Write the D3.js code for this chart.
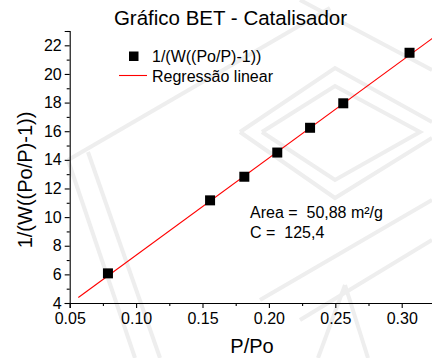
<!DOCTYPE html>
<html>
<head>
<meta charset="utf-8">
<script src="https://cdn.jsdelivr.net/npm/d3@7"></script>
<style>
  html, body { margin: 0; padding: 0; background: #fff; }
  svg { display: block; font-family: "Liberation Sans", Arial, sans-serif; }
</style>
</head>
<body>
<svg id="chart" width="432" height="358"></svg>
<script>
// BET plot: measured points
const relPressure = [0.0788, 0.1557, 0.1815, 0.2063, 0.2310, 0.2560, 0.3059];
const betValue    = [6.07, 11.17, 12.82, 14.51, 16.24, 17.95, 21.48];

// Linear regression of the BET transform
const fitSlope = 67.91;
const fitIntercept = 0.546;
const fitRange = [0.0565, 0.33];

// Axis ticks
const xTicks = [0.05, 0.10, 0.15, 0.20, 0.25, 0.30];
const xMinor = [0.075, 0.125, 0.175, 0.225, 0.275, 0.325];
const yTicks = [4, 6, 8, 10, 12, 14, 16, 18, 20, 22];
const yMinor = [5, 7, 9, 11, 13, 15, 17, 19, 21, 23];

// Text
const titleText = "Gráfico BET - Catalisador";
const xTitle = "P/Po";
const yTitle = "1/(W((Po/P)-1))";
const legendLabels = ["1/(W((Po/P)-1))", "Regressão linear"];
const resultLines = ["Area =  50,88 m²/g", "C =  125,4"];

const svg = d3.select("#chart");

// faint background emblem
const emblem = svg.append("g")
  .attr("fill", "none")
  .attr("stroke", "#eeeeee")
  .attr("stroke-width", 4)
  .attr("stroke-linejoin", "miter");
const line = d3.line();
[
  [[262, 132], [335, 86], [420, 132], [335, 180], [262, 132]],
  [[240, 132], [335, 68], [432, 122]],
  [[240, 132], [335, 198], [432, 138]],
  [[68, 160], [135, 358]],
  [[88, 152], [160, 358]],
  [[68, 160], [330, 8]],
  [[300, 0], [432, 70]],
  [[345, 285], [368, 358]],
  [[345, 285], [318, 358]],
  [[432, 200], [260, 300]],
  [[432, 240], [300, 320]]
].forEach(p => emblem.append("path").attr("d", line(p)));

const x = d3.scaleLinear().domain([0.05, 0.325]).range([69.7, 434.9]);
const y = d3.scaleLinear().domain([4, 23]).range([303, 31]);

// x axis
const xAxisG = svg.append("g").attr("transform", `translate(0,${y(4)})`);
xAxisG.call(d3.axisBottom(x).tickValues(xTicks).tickSize(5).tickPadding(5)
  .tickFormat(d3.format(".2f")));
xAxisG.append("g").call(d3.axisBottom(x).tickValues(xMinor).tickSize(3).tickFormat(""))
  .select(".domain").remove();

// y axis
const yAxisG = svg.append("g").attr("transform", `translate(${x(0.05)},0)`);
yAxisG.call(d3.axisLeft(y).tickValues(yTicks).tickSize(5).tickPadding(3)
  .tickFormat(d3.format("d")));
yAxisG.append("g").call(d3.axisLeft(y).tickValues(yMinor).tickSize(3).tickFormat(""))
  .select(".domain").remove();

svg.selectAll(".domain, .tick line").attr("stroke", "#000").attr("stroke-width", 1.1);
svg.selectAll(".tick text").attr("fill", "#000")
  .style("font-size", "16px").style("font-family", "Liberation Sans, Arial, sans-serif");

// regression line
svg.append("clipPath").attr("id", "plotClip").append("rect")
  .attr("x", x(0.05)).attr("y", y(23)).attr("width", 432).attr("height", y(4) - y(23));
svg.append("path")
  .attr("clip-path", "url(#plotClip)")
  .attr("fill", "none")
  .attr("stroke", "#ff0000")
  .attr("stroke-width", 1.1)
  .attr("d", d3.line()(fitRange.map(v => [x(v), y(fitSlope * v + fitIntercept)])));

// data markers
const msize = 10;
svg.append("g").selectAll("rect")
  .data(relPressure.map((p, i) => [p, betValue[i]]))
  .join("rect")
  .attr("x", d => x(d[0]) - msize / 2)
  .attr("y", d => y(d[1]) - msize / 2)
  .attr("width", msize).attr("height", msize)
  .attr("fill", "#000");

// title
svg.append("text").attr("x", 230.5).attr("y", 25).attr("text-anchor", "middle")
  .style("font-size", "20.5px").attr("fill", "#000").text(titleText);

// axis titles
svg.append("text").attr("x", 252).attr("y", 353).attr("text-anchor", "middle")
  .style("font-size", "20px").attr("fill", "#000").text(xTitle);
svg.append("text").attr("transform", "translate(32,180) rotate(-90)")
  .attr("text-anchor", "middle")
  .style("font-size", "20px").attr("fill", "#000").text(yTitle);

// legend
const lg = svg.append("g");
lg.append("rect").attr("x", 129).attr("y", 51.5).attr("width", 9.5).attr("height", 9.5).attr("fill", "#000");
lg.append("text").attr("x", 152).attr("y", 62).style("font-size", "16px").attr("fill", "#000")
  .text(legendLabels[0]);
lg.append("line").attr("x1", 119).attr("x2", 147).attr("y1", 75.5).attr("y2", 75.5)
  .attr("stroke", "#ff0000").attr("stroke-width", 1.1);
lg.append("text").attr("x", 152).attr("y", 81.5).style("font-size", "16px").attr("fill", "#000")
  .text(legendLabels[1]);

// fit results
svg.append("g").selectAll("text").data(resultLines).join("text")
  .attr("x", 250).attr("y", (d, i) => 218 + i * 20)
  .style("font-size", "16px").attr("fill", "#000")
  .attr("xml:space", "preserve").style("white-space", "pre")
  .text(d => d);
</script>
</body>
</html>
